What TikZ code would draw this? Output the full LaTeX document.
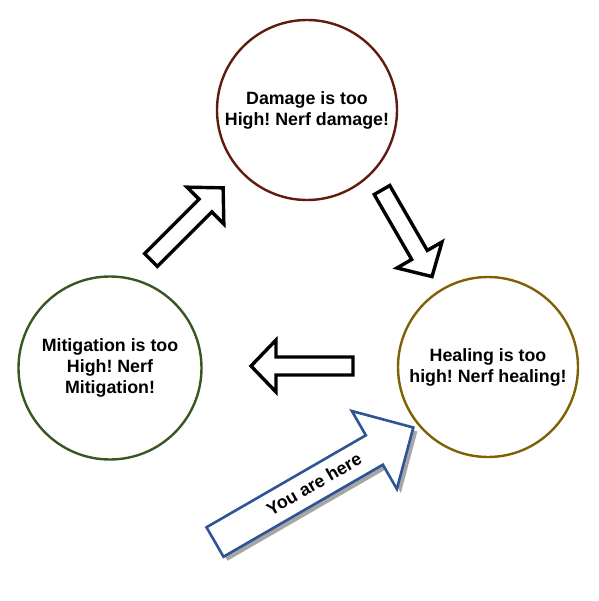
\documentclass[tikz,border=0pt]{standalone}
\usepackage{fontspec}
\setmainfont{Liberation Sans}
\frenchspacing
\definecolor{dmgcol}{HTML}{5E1B0E}
\definecolor{mitcol}{HTML}{385723}
\definecolor{healcol}{HTML}{806000}
\definecolor{herecol}{HTML}{2F5496}
\definecolor{shadowcol}{HTML}{A6A6A6}
\newcommand\blockarr[7]{%
  \draw[#1,shift={#2},rotate=#3] (0,-#5) -- ({#4-#7},-#5) -- ({#4-#7},-#6) -- (#4,0) -- ({#4-#7},#6) -- ({#4-#7},#5) -- (0,#5) -- cycle;}
\tikzset{
  circ/.style={circle, draw, line width=2.4pt, minimum size=180pt, inner sep=0pt, align=center,
    font=\fontsize{17.8}{21}\selectfont\bfseries},
  blk/.style={draw=black, line width=3.4pt, fill=white, line join=miter},
  here/.style={draw=herecol, line width=2.6pt, fill=white, line join=miter},
  hereshadow/.style={fill=shadowcol, draw=none},
  lbl/.style={font=\fontsize{17.8}{21}\selectfont\bfseries}
}
\begin{document}
\begin{tikzpicture}[x=1pt,y=-1pt]
\useasboundingbox (0,0) rectangle (598,601);
\node[circ, draw=dmgcol] (dmg) at (307,110) {Damage is too\\High! Nerf damage!};
\node[circ, draw=mitcol, minimum size=183pt] (mit) at (110,368) {Mitigation is too\\High! Nerf\\Mitigation!};
\node[circ, draw=healcol] (heal) at (488,367) {Healing is too\\high! Nerf healing!};
% cycle arrows
\blockarr{blk}{(151,260)}{45}{102}{9}{26}{25}
\blockarr{blk}{(382,190)}{-60}{100}{9}{26}{25}
\blockarr{blk}{(353,366)}{180}{102}{9}{26}{25}
% you are here
\blockarr{hereshadow}{(219,546)}{30}{229}{17}{45}{45}
\blockarr{here}{(215,542)}{30}{229}{17}{45}{45}
\node[lbl, rotate=30] (you) at (314,484) {You are here};
\end{tikzpicture}
\end{document}
